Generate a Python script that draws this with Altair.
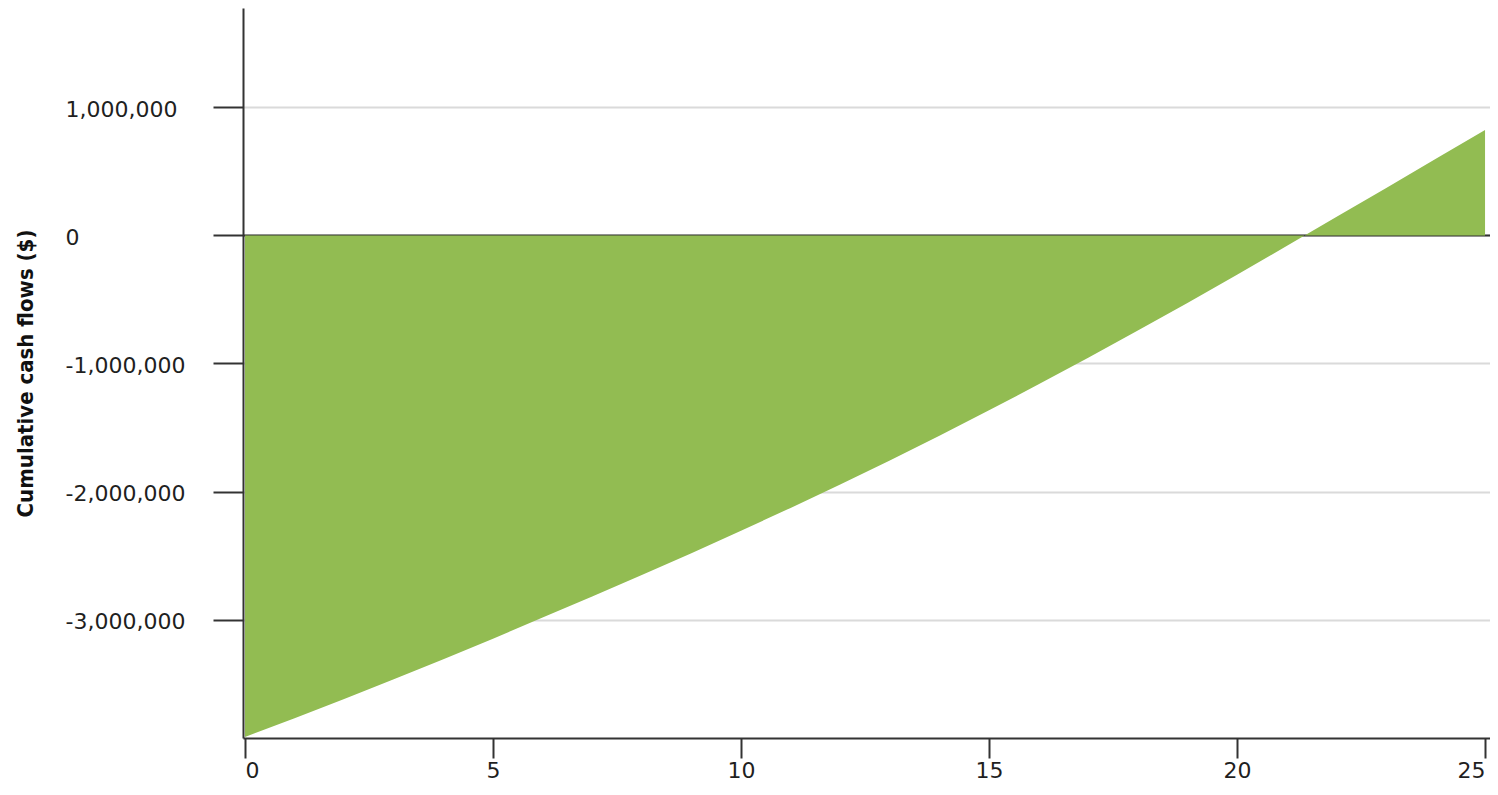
import altair as alt
import pandas as pd

# Year of project life
years = list(range(26))
# Cumulative cash flows ($)
cumulative = [-3917000, -3770000, -3620000, -3467000, -3310000, -3149000,
              -2984000, -2820000, -2653000, -2482000, -2307000, -2128000,
              -1945000, -1757000, -1564000, -1366000, -1163000, -955000,
              -743000, -527000, -307000, -83000, 143000, 369000, 596000, 824000]
y_ticks = [-3000000, -2000000, -1000000, 0, 1000000]
x_ticks = [0, 5, 10, 15, 20, 25]
zero_line = [0]

df = pd.DataFrame({"year": years, "cum": cumulative})
zero_df = pd.DataFrame({"v": zero_line})

LABEL_FONT = "DejaVu Sans"
TITLE_FONT = "'Liberation Sans Narrow', 'DejaVu Sans Condensed', 'Open Sans'"

x_scale = alt.Scale(domain=[-0.04, 25.1], nice=False, zero=False)
y_scale = alt.Scale(domain=[-3925000, 1776000], nice=False, zero=False)

area = alt.Chart(df).mark_area(color="#92bc52", opacity=1).encode(
    x=alt.X("year:Q", scale=x_scale,
            axis=alt.Axis(values=x_ticks, title=None, grid=False,
                          tickSize=20, tickWidth=2, tickColor="#333333",
                          domainColor="#333333", domainWidth=2,
                          labelFont=LABEL_FONT, labelFontSize=22,
                          labelColor="#1f1f1f", labelPadding=2,
                          labelFlush=10)),
    y=alt.Y("cum:Q", scale=y_scale,
            axis=alt.Axis(values=y_ticks, grid=True,
                          labelExpr="replace(format(datum.value, ',d'), '\u2212', '-')",
                          gridColor="#dadada", gridWidth=2,
                          tickSize=30, tickWidth=2, tickColor="#333333",
                          domainColor="#333333", domainWidth=2,
                          labelFont=LABEL_FONT, labelFontSize=22,
                          labelColor="#1f1f1f", labelAlign="left",
                          labelPadding=148, labelBaseline="middle",
                          labelOffset=2,
                          title="Cumulative cash flows ($)",
                          titleFont=TITLE_FONT, titleFontSize=22,
                          titleFontWeight="bold", titleColor="#111111",
                          titleAngle=270, titleAlign="center",
                          titleBaseline="middle", titleX=-218, titleY=365)),
    y2=alt.datum(0),
)

zero = alt.Chart(zero_df).mark_rule(color="#333333", strokeWidth=2).encode(
    y=alt.Y("v:Q", scale=y_scale),
    x=alt.value(0),
    x2=alt.value(1247),
)

chart = alt.layer(zero, area).properties(
    width=1247, height=730,
    autosize=alt.AutoSizeParams(type="none"),
    padding={"left": 235, "top": 0, "right": 0, "bottom": 49},
).configure_view(stroke=None)

chart.save("out.html", embed_options={"renderer": "svg", "actions": False})
